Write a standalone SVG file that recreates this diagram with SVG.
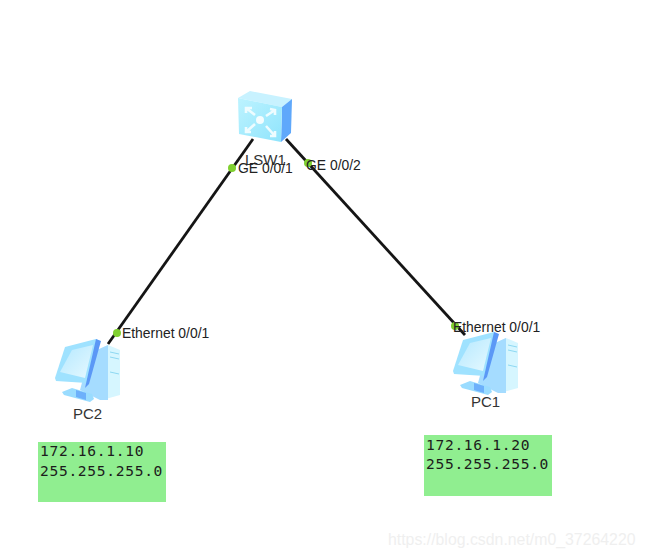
<svg xmlns="http://www.w3.org/2000/svg" width="645" height="558" viewBox="0 0 645 558">
  <style>
    .lbl { font-family: "Liberation Sans", Arial, sans-serif; font-size: 13.9px; fill: #222; }
    .name { font-family: "Liberation Sans", Arial, sans-serif; font-size: 15px; fill: #333; }
    .mono { font-family: "DejaVu Sans Mono", monospace; font-size: 14.6px; letter-spacing: 0.68px; fill: #1c1c1c; }
    .link { stroke: #151515; stroke-width: 2.8; fill: none; }
    .port { fill: #80d030; }
    .note { fill: #90ee90; }
  </style>
  <defs>
    <linearGradient id="front" x1="0" y1="0" x2="1" y2="1">
      <stop offset="0" stop-color="#bdf3ff"/>
      <stop offset="1" stop-color="#8fe4fc"/>
    </linearGradient>
    <linearGradient id="screen" x1="0" y1="0" x2="1" y2="1">
      <stop offset="0" stop-color="#b4e8ff"/>
      <stop offset="1" stop-color="#e6f9ff"/>
    </linearGradient>
    <g id="pc">
      <!-- tower: front face and shaded side -->
      <path d="M52 5 L64 10 L64 55 L46 60 L46 8 Z" fill="#d6f6ff"/>
      <path d="M34 13 L52 5 L52 60 L44 60 L24 50 Z" fill="#a5dcff"/>
      <path d="M54 12 L63 14 M54 17 L63 19 M54 32 L63 34" stroke="#8ed8f2" stroke-width="1" fill="none"/>
      <!-- stand -->
      <path d="M6 52 L16 48 L36 54 L38 59 L34 62 L8 55 Z" fill="#9adcff"/>
      <path d="M20 50 L30 53 L30 60 L20 57 Z" fill="#6db0fb"/>
      <!-- monitor: bezel, blue edge, screen -->
      <path d="M9 7 L40 -1 L44 1 L31 43 L0 41 L-1 38 Z" fill="#9fe2ff"/>
      <path d="M40 -1 L45 1 L33 44 L29 48 Z" fill="#5b98f6"/>
      <path d="M16 10 L37 5 L29 38 L4 32 Z" fill="url(#screen)"/>
    </g>
  </defs>

  <g id="connectors">
    <line class="link" x1="253" y1="139" x2="108" y2="344"/>
    <line class="link" x1="286" y1="139" x2="465" y2="335"/>
  </g>

  <g id="LSW1">
    <path d="M238 98 L250 91 L292 99 L282 107 Z" fill="#c8f2ff"/>
    <path d="M282 107 L292 99 L291 133 L281 142 Z" fill="#5fa8fb"/>
    <path d="M238 98 L282 107 L281 142 L239 134 Z" fill="url(#front)"/>
    <g stroke="#eefcff" stroke-width="2.6" fill="none">
      <path d="M246 108 L255 115 M246 113 L246 108 L252 108"/>
      <path d="M275 110 L266 116 M270 109 L275 110 L275 115"/>
      <path d="M246 132 L255 124 M246 127 L246 132 L251 132"/>
      <path d="M275 136 L266 126 M275 131 L275 136 L270 136"/>
    </g>
    <circle cx="260" cy="120" r="4" fill="#f4fdff"/>
    <text class="name" x="245" y="165">LSW1</text>
  </g>

  <g id="PC2">
    <use href="#pc" x="56" y="340"/>
    <text class="name" x="73" y="419">PC2</text>
  </g>

  <g id="PC1">
    <use href="#pc" x="454" y="333"/>
    <text class="name" x="471" y="407">PC1</text>
  </g>

  <g id="ports">
    <circle class="port" cx="232" cy="168" r="4"/>
    <circle class="port" cx="308" cy="163" r="4"/>
    <circle class="port" cx="117" cy="333" r="4"/>
    <circle class="port" cx="455" cy="326" r="4"/>
    <text class="lbl" x="238" y="173">GE 0/0/1</text>
    <text class="lbl" x="306" y="170">GE 0/0/2</text>
    <text class="lbl" x="122" y="338">Ethernet 0/0/1</text>
    <text class="lbl" x="453" y="332">Ethernet 0/0/1</text>
  </g>

  <g id="note-PC2">
    <rect class="note" x="38" y="442" width="128" height="60"/>
    <text class="mono" x="40" y="456">172.16.1.10</text>
    <text class="mono" x="40" y="476">255.255.255.0</text>
  </g>

  <g id="note-PC1">
    <rect class="note" x="424" y="435" width="128" height="61"/>
    <text class="mono" x="426" y="450">172.16.1.20</text>
    <text class="mono" x="426" y="469">255.255.255.0</text>
  </g>

  <text x="388" y="545" font-family="'Liberation Sans', Arial, sans-serif" font-size="15.85" fill="#efefef">https://blog.csdn.net/m0_37264220</text>
</svg>
